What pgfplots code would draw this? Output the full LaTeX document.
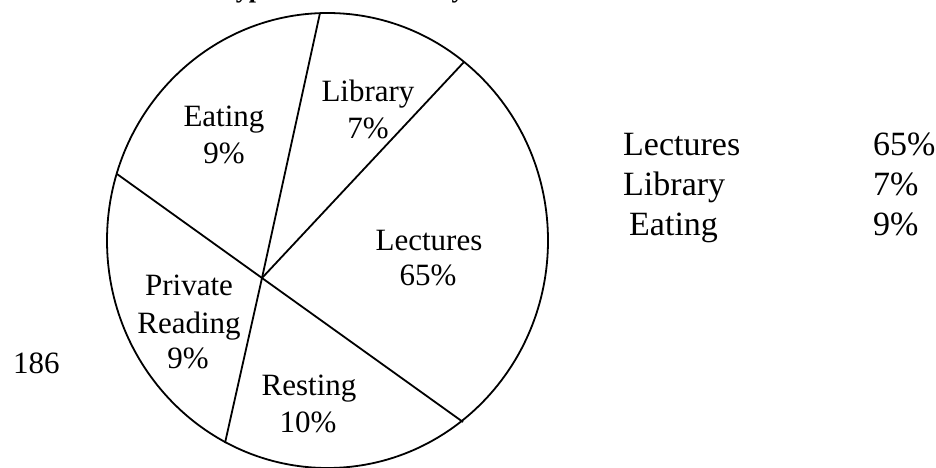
\documentclass[border=0pt]{standalone}
\usepackage{pgfplots}
\pgfplotsset{compat=1.18}
\usepackage{fontspec}
\setmainfont{Liberation Serif}
\begin{document}
\begin{tikzpicture}[
  lbl/.style={anchor=base, font=\fontsize{31}{37}\selectfont, inner sep=0pt},
  leg/.style={anchor=base west, font=\fontsize{34}{40}\selectfont, inner sep=0pt},
  seg/.style={black, line width=1.8pt, no markers},
]
\begin{axis}[
  x=1pt, y=1pt, y dir=reverse,
  xmin=0, xmax=936, ymin=0, ymax=468,
  scale only axis, hide axis, clip=true,
]
% title, mostly above the page
\node[anchor=base, font=\bfseries\fontsize{26}{30}\selectfont, inner sep=0pt] at (axis cs:330,-2) {A Typical Student's Day};
% pie outline
\draw[black, line width=1.8pt] (axis cs:327.5,240.5) ellipse [x radius=220.5, y radius=227.5];
% slice boundaries from the hub
\addplot[seg] coordinates {(262,278) (320,13)};
\addplot[seg] coordinates {(262,278) (464,62)};
\addplot[seg] coordinates {(262,278) (117,174)};
\addplot[seg] coordinates {(262,278) (463,422)};
\addplot[seg] coordinates {(262,278) (225,443)};
% slice labels
\node[lbl] at (axis cs:224,127) {Eating};
\node[lbl] at (axis cs:224,163) {9\%};
\node[lbl] at (axis cs:368,102) {Library};
\node[lbl] at (axis cs:368,139) {7\%};
\node[lbl] at (axis cs:429,250) {Lectures};
\node[lbl] at (axis cs:428,285) {65\%};
\node[lbl] at (axis cs:189,295) {Private};
\node[lbl] at (axis cs:189,333) {Reading};
\node[lbl] at (axis cs:188,368) {9\%};
\node[lbl] at (axis cs:309,395) {Resting};
\node[lbl] at (axis cs:308,432) {10\%};
% side table
\node[leg] at (axis cs:623,155) {Lectures};
\node[leg] at (axis cs:623,195) {Library};
\node[leg] at (axis cs:629,235) {Eating};
\node[leg] at (axis cs:873,155) {65\%};
\node[leg] at (axis cs:873,195) {7\%};
\node[leg] at (axis cs:873,235) {9\%};
% page number
\node[anchor=base west, font=\fontsize{31}{37}\selectfont, inner sep=0pt] at (axis cs:13,373) {186};
\end{axis}
\pgfresetboundingbox
\path[use as bounding box] (current axis.south west) rectangle (current axis.north east);
\end{tikzpicture}
\end{document}
